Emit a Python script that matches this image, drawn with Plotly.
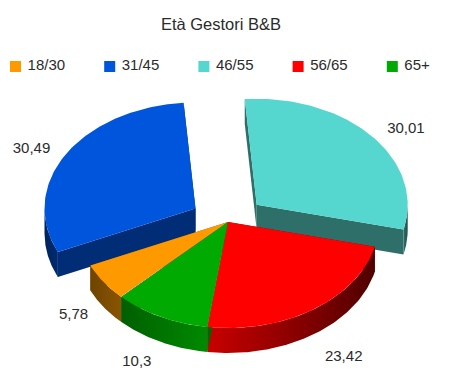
import math
import numpy as np
import plotly.graph_objects as go

# ---- data ----
title_text = "Età Gestori B&B"
categories = ["18/30", "31/45", "46/55", "56/65", "65+"]
values = [5.78, 30.49, 30.01, 23.42, 10.3]
value_labels = ["5,78", "30,49", "30,01", "23,42", "10,3"]

# ---- styles ----
top_colors = ["#ff9900", "#0055dd", "#55d6ce", "#ff0000", "#00aa00"]
side_left = ["#6e4400", "#00245c", "#2f6f6a", "#c80000", "#005f00"]
side_right = ["#8a5500", "#002a70", "#1f4f4c", "#500000", "#008a00"]
cut_colors = ["#804f00", "#002d75", "#2f6f6a", "#800000", "#006600"]
exploded = [False, True, True, False, False]

W, H = 450, 391
CX, CY = 228, 222          # pie centre in pixels
RX, RY = 151, 106          # ellipse radii
DEPTH = 25                 # extrusion height
START = 134.9              # start angle, clockwise on screen
EXPLODE = 0.25
LABEL_KX, LABEL_KY = 1.3, 1.15
label_nudge = [(7, -1), (5, 3), (0, 4), (5, 10), (-4, 6)]

fig = go.Figure()
total = sum(values)


def add_poly(xs, ys, color=None, gradient=None):
    tr = dict(x=list(xs), y=list(ys), mode="lines", fill="toself",
              line=dict(width=0), hoverinfo="skip", showlegend=False)
    if gradient:
        tr["fillgradient"] = dict(type="horizontal",
                                  colorscale=[[0, gradient[0]], [1, gradient[1]]])
        tr["fillcolor"] = gradient[0]
    else:
        tr["fillcolor"] = color
    fig.add_trace(go.Scatter(**tr))


slices = []
a = START
for i, v in enumerate(values):
    sweep = v / total * 360
    mid = math.radians(a + sweep / 2)
    ox = EXPLODE * RX * math.cos(mid) if exploded[i] else 0
    oy = EXPLODE * RY * math.sin(mid) if exploded[i] else 0
    slices.append(dict(i=i, a0=a, a1=a + sweep, mid=mid, cx=CX + ox, cy=CY + oy))
    a += sweep


def arc(s, a0=None, a1=None):
    a0 = s["a0"] if a0 is None else a0
    a1 = s["a1"] if a1 is None else a1
    t = np.radians(np.linspace(a0, a1, 90))
    return s["cx"] + RX * np.cos(t), s["cy"] + RY * np.sin(t)


def sides(s):
    i = s["i"]
    # radial cut faces
    for ang in (s["a0"], s["a1"]):
        px = s["cx"] + RX * math.cos(math.radians(ang))
        py = s["cy"] + RY * math.sin(math.radians(ang))
        add_poly([s["cx"], px, px, s["cx"], s["cx"]],
                 [s["cy"], py, py + DEPTH, s["cy"] + DEPTH, s["cy"]],
                 color=cut_colors[i])
    # outer wall: only the parts turned to the viewer
    for lo, hi in ((0, 180), (360, 540)):
        a0, a1 = max(s["a0"], lo), min(s["a1"], hi)
        if a1 > a0:
            x, y = arc(s, a0, a1)
            add_poly(np.r_[x, x[::-1], x[0]], np.r_[y, y[::-1] + DEPTH, y[0]],
                     gradient=(side_left[i], side_right[i]))


def top(s):
    x, y = arc(s)
    add_poly(np.r_[s["cx"], x, s["cx"]], np.r_[s["cy"], y, s["cy"]], color=top_colors[s["i"]])


back = [s for s in slices if exploded[s["i"]]]
front = [s for s in slices if not exploded[s["i"]]]
for s in back:
    sides(s)
    top(s)
for s in front:
    sides(s)
for s in front:
    top(s)

# value labels
for s in slices:
    lx = s["cx"] + LABEL_KX * RX * math.cos(s["mid"]) + label_nudge[s["i"]][0]
    sin_m = math.sin(s["mid"])
    ly = s["cy"] + LABEL_KY * RY * sin_m + (DEPTH if sin_m > 0 else 0) + label_nudge[s["i"]][1]
    fig.add_trace(go.Scatter(x=[lx], y=[ly], mode="text", text=[value_labels[s["i"]]],
                             textposition="middle center", hoverinfo="skip", showlegend=False,
                             textfont=dict(family="Liberation Sans", size=15, color="#2b2b2b")))

# legend row
LEG_X0, LEG_DX, LEG_Y = 15.5, 94.2, 66.5
for i, c in enumerate(categories):
    fig.add_trace(go.Scatter(x=[LEG_X0 + i * LEG_DX], y=[LEG_Y], mode="markers+text", text=[" " + c],
                             textposition="middle right", hoverinfo="skip", showlegend=False,
                             marker=dict(symbol="square", size=11, color=top_colors[i], line=dict(width=0)),
                             textfont=dict(family="Liberation Sans", size=15, color="#2b2b2b")))

fig.update_layout(
    width=W, height=H, margin=dict(l=0, r=0, t=0, b=0),
    paper_bgcolor="white", plot_bgcolor="white", showlegend=False,
    title=dict(text=title_text, x=221 / W, y=1 - 24 / H, xanchor="center", yanchor="middle",
               font=dict(family="Liberation Sans", size=16.5, color="#2b2b2b")),
    xaxis=dict(range=[0, W], visible=False, fixedrange=True),
    yaxis=dict(range=[H, 0], visible=False, fixedrange=True),
)
fig.write_html("out.html", config={"displayModeBar": False},
               post_script="document.body.style.margin='0';")
